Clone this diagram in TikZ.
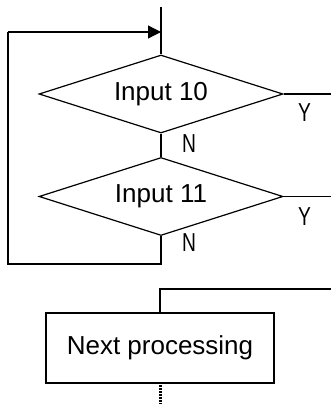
\documentclass[tikz,border=0pt]{standalone}
\usepackage{fontspec}
\setmainfont{Liberation Sans}
\usetikzlibrary{shapes.geometric,arrows.meta}
\begin{document}
\begin{tikzpicture}[x=1pt,y=-1pt,line width=1.2pt,
  decision/.style={draw, shape=diamond, aspect=3.13, minimum width=244pt, minimum height=78pt, inner sep=0pt, font=\fontsize{26}{28}\selectfont},
  procbox/.style={draw, rectangle, minimum width=228pt, minimum height=70pt, inner sep=0pt, font=\fontsize{26}{28}\selectfont},
  lbl/.style={font=\fontsize{26}{28}\selectfont, xscale=0.74, inner sep=0pt},
  flow/.style={draw, line width=1.2pt},
  dotline/.style={draw, line width=3pt, dash pattern=on 2pt off 1pt}
]
\useasboundingbox (0,0) rectangle (331,404);
% nodes
\node[decision] (d1) at (161,94) {Input 10};
\node[decision] (d2) at (161,196.5) {Input 11};
\node[procbox] (box) at (160,348) {Next processing};
% labels
\node[lbl] (y1) at (304.5,113) {Y};
\node[lbl] (n1) at (189,144) {N};
\node[lbl] (y2) at (304.5,217) {Y};
\node[lbl] (n2) at (189,242.5) {N};
% coordinates
\coordinate (top) at (161,7);
\coordinate (merge) at (161,32);
\coordinate (lt) at (8,32);
\coordinate (lb) at (8,264);
\coordinate (bb) at (161,264);
\coordinate (r1) at (331,94);
\coordinate (r2) at (331,196.5);
\coordinate (cornerR) at (331,289);
\coordinate (corner) at (160,289);
\coordinate (dotend) at (160,404);
% connectors
\draw[flow] (top) -- (d1.north);
\draw[flow] (d1.east) -- (r1);
\draw[flow] (d1.south) -- (d2.north);
\draw[flow] (d2.east) -- (r2);
\draw[flow] (d2.south) -- (bb) -- (lb) -- (lt);
\draw[flow, -{Triangle[length=13pt,width=13pt]}] (lt) -- (merge);
\draw[flow] (box.north) -- (corner) -- (cornerR);
\draw[dotline] ([yshift=-1.5pt]box.south) -- (dotend);
\end{tikzpicture}
\end{document}
